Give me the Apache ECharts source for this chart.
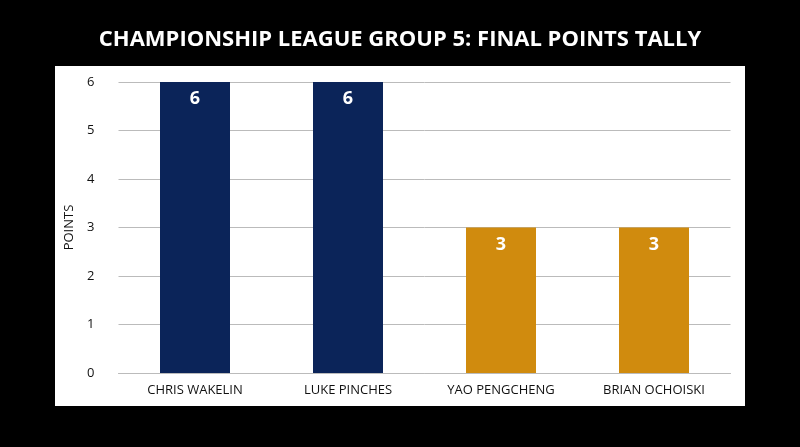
<!DOCTYPE html>
<html><head><meta charset="utf-8">
<script src="https://cdn.jsdelivr.net/npm/echarts@6/dist/echarts.min.js"></script>
<style>html,body{margin:0;background:#000}#c{width:800px;height:447px}</style>
</head><body><div id="c"></div>
<script>
const categories=["CHRIS WAKELIN","LUKE PINCHES","YAO PENGCHENG","BRIAN OCHOISKI"];
const points=[6,6,3,3];
const barColors=["#0b2459","#0b2459","#d08b0e","#d08b0e"];
const chart=echarts.init(document.getElementById('c'));
chart.setOption({
  backgroundColor:'#000',
  animation:false,
  title:{text:'CHAMPIONSHIP LEAGUE GROUP 5: FINAL POINTS TALLY',left:'center',top:24,
    textStyle:{color:'#fff',fontFamily:'Open Sans',fontWeight:'bold',fontSize:22}},
  graphic:[{type:'rect',shape:{x:55,y:66,width:690,height:340},style:{fill:'#fff'},z:-10}],
  grid:{left:118.5,right:69.5,top:82,bottom:74},
  xAxis:{type:'category',data:categories,axisTick:{show:false},
    axisLine:{lineStyle:{color:'#bbb'}},
    axisLabel:{color:'#111',fontFamily:'Open Sans',fontSize:13,margin:11}},
  yAxis:{type:'value',min:0,max:6,interval:1,name:'POINTS',nameLocation:'middle',nameGap:35,
    nameTextStyle:{color:'#111',fontFamily:'Open Sans',fontSize:13},
    axisLabel:{color:'#111',fontFamily:'Open Sans',fontSize:13,margin:24},
    splitLine:{lineStyle:{color:'#bbb'}}},
  series:[{type:'bar',barWidth:70,
    data:points.map((v,i)=>({value:v,itemStyle:{color:barColors[i]}})),
    label:{show:true,position:'insideTop',distance:8,color:'#fff',fontFamily:'Open Sans',fontWeight:'bold',fontSize:18}}]
});
</script></body></html>
